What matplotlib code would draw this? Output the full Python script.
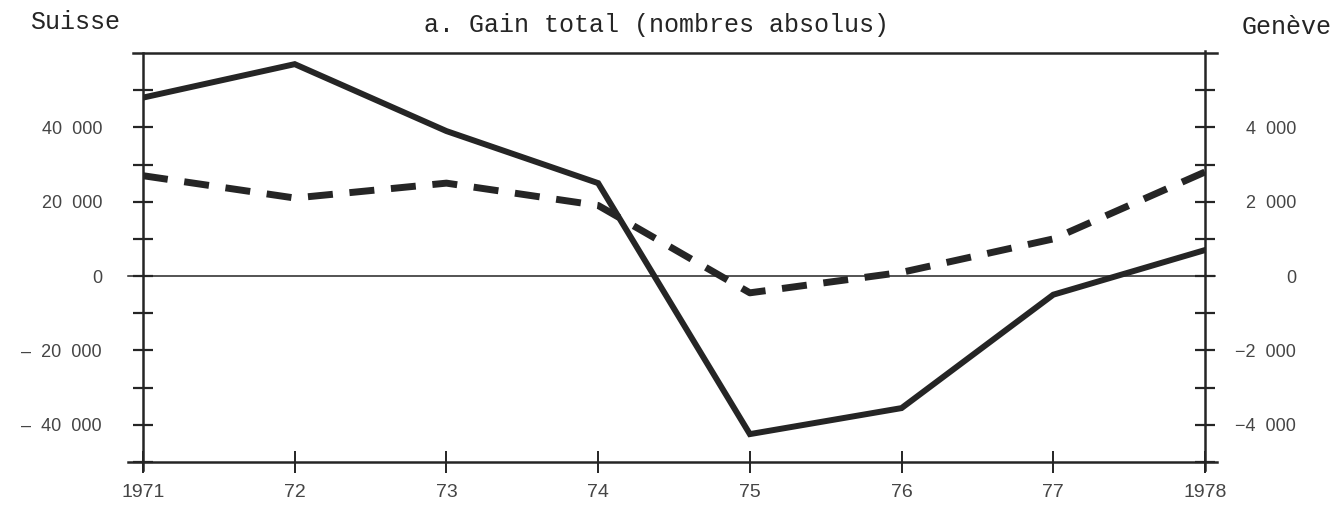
import matplotlib
matplotlib.use("Agg")
import matplotlib.pyplot as plt
from matplotlib.lines import Line2D

years = [1971, 1972, 1973, 1974, 1975, 1976, 1977, 1978]
year_labels = ["1971", "72", "73", "74", "75", "76", "77", "1978"]
suisse = [48000, 57000, 39000, 25000, -42500, -35500, -5000, 7000]
geneve = [2700, 2100, 2500, 1900, -450, 100, 1000, 2800]

left_ticks = [-40000, -20000, 0, 20000, 40000]
left_labels = ["\u2013  40  000", "\u2013  20  000", "0", "20  000", "40  000"]
right_ticks = [-4000, -2000, 0, 2000, 4000]
right_labels = ["\u22124  000", "\u22122  000", "0", "2  000", "4  000"]

ink = "#252525"
txt = "#454545"
mono = "Liberation Mono"
sans = "Liberation Sans"

fig = plt.figure(figsize=(13.43, 5.08), dpi=100)
ax = fig.add_axes([143/1343, 1-462/508, (1205-143)/1343, (462-53)/508])
ax2 = ax.twinx()

ax.set_xlim(1971, 1978)
ax.set_ylim(-50000, 60000)
ax2.set_ylim(-5000, 6000)

for a in (ax, ax2):
    for s in a.spines.values():
        s.set_visible(False)

# solid Suisse line
ax.plot(years, suisse, color=ink, lw=4.3, solid_joinstyle="miter", zorder=3)
# dashed Genève line
ax2.plot(years, geneve, color=ink, lw=5.0, dashes=(3.6, 2.4),
         dash_capstyle="butt", zorder=3)

def hline(y, x0, x1, lw):
    ax.add_line(Line2D([x0, x1], [y, y], transform=ax.transAxes, color=ink,
                       lw=lw, clip_on=False, zorder=2))

def vline(x, y0, y1, lw):
    ax.add_line(Line2D([x, x], [y0, y1], transform=ax.transAxes, color=ink,
                       lw=lw, clip_on=False, zorder=2))

w = 1205 - 143
h = 462 - 53
hline(1.0, -10/w, 1+12/w, 1.8)
hline(0.0, -15/w, 1+12/w, 1.8)
vline(0.0, -8/h, 1.0, 1.8)
vline(1.0, -8/h, 1+2/h, 1.8)
ax.axhline(0, xmin=-15/w, xmax=1+10/w, color=ink, lw=1.1, clip_on=False, zorder=2)

# ticks
ax.set_yticks(left_ticks)
ax.set_yticklabels(left_labels)
ax.set_yticks([-50000, -30000, -10000, 10000, 30000, 50000], minor=True)
ax2.set_yticks(right_ticks)
ax2.set_yticklabels(right_labels)
ax2.set_yticks([-5000, -3000, -1000, 1000, 3000, 5000], minor=True)
ax.set_xticks(years)
ax.set_xticklabels(year_labels)

ax.tick_params(axis="y", which="both", direction="inout", length=15, width=1.6,
               color=ink, labelcolor=txt, labelsize=13, pad=22)
ax.tick_params(axis="x", which="both", direction="inout", length=16, width=1.4,
               color=ink, labelcolor=txt, labelsize=14, pad=8)
ax2.tick_params(axis="y", which="both", direction="inout", length=15, width=1.6,
                color=ink, labelcolor=txt, labelsize=13, pad=58)
for lab in ax2.get_yticklabels():
    lab.set_horizontalalignment("right")
for lab in ax.get_yticklabels() + ax2.get_yticklabels() + ax.get_xticklabels():
    lab.set_fontfamily(sans)

fig.text(30/1343, 1-22/508, "Suisse", fontfamily=mono, fontsize=18, color=ink,
         ha="left", va="center")
fig.text(656/1343, 1-25/508, "a. Gain total (nombres absolus)", fontfamily=mono,
         fontsize=18, color=ink, ha="center", va="center")
fig.text(1332/1343, 1-27/508, "Genève", fontfamily=mono, fontsize=18, color=ink,
         ha="right", va="center")

fig.savefig("out.png", dpi=100, facecolor="white")
